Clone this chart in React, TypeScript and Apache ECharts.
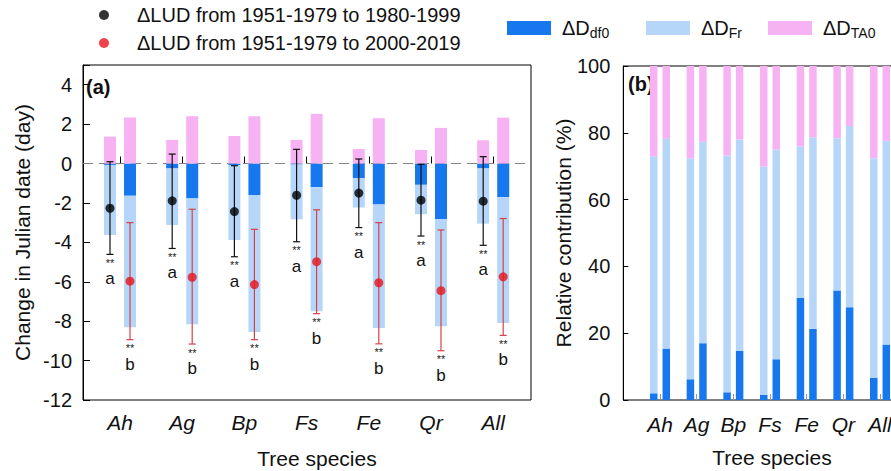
import React, { useEffect, useRef } from 'react';
import * as echarts from 'echarts';

const FONT = '"Liberation Sans", Arial, sans-serif';

// Categories
const species = ['Ah', 'Ag', 'Bp', 'Fs', 'Fe', 'Qr', 'All'];

// Legend names
const ludNames = ['ΔLUD from 1951-1979 to 1980-1999', 'ΔLUD from 1951-1979 to 2000-2019'];
const compNames = ['ΔDdf0', 'ΔDFr', 'ΔDTA0'];
const compMain = 'ΔD';
const compSubs = ['df0', 'Fr', 'TA0'];

// Panel (a): contributions (day), period 1 (1980-1999 vs 1951-1979)
const df0P1 = [-0.07, -0.25, -0.08, -0.05, -0.74, -1.08, -0.25];
const frP1 = [-3.56, -2.87, -3.8, -2.78, -1.49, -1.49, -2.8];
const ta0P1 = [1.37, 1.2, 1.4, 1.2, 0.74, 0.69, 1.18];
// period 2 (2000-2019 vs 1951-1979)
const df0P2 = [-1.64, -1.77, -1.6, -1.2, -2.08, -2.83, -1.71];
const frP2 = [-6.67, -6.39, -6.95, -6.3, -6.27, -5.43, -6.38];
const ta0P2 = [2.33, 2.4, 2.4, 2.52, 2.3, 1.81, 2.33];

// Panel (a): ΔLUD mean and error-bar ends
const ludP1 = [-2.27, -1.89, -2.44, -1.61, -1.5, -1.86, -1.91];
const ludP1High = [0.09, 0.48, -0.11, 0.72, 0.23, -0.04, 0.35];
const ludP1Low = [-4.61, -4.31, -4.73, -3.97, -3.25, -3.68, -4.15];
const ludP2 = [-5.97, -5.77, -6.14, -4.98, -6.05, -6.45, -5.75];
const ludP2High = [-3.0, -2.32, -3.34, -2.35, -3.0, -3.37, -2.79];
const ludP2Low = [-8.94, -9.16, -8.94, -7.62, -9.15, -9.5, -8.72];

// Significance annotations
const starsP1 = ['**', '**', '**', '**', '**', '**', '**'];
const lettersP1 = ['a', 'a', 'a', 'a', 'a', 'a', 'a'];
const starsP2 = ['**', '**', '**', '**', '**', '**', '**'];
const lettersP2 = ['b', 'b', 'b', 'b', 'b', 'b', 'b'];

// Panel (b): relative contribution (%)
const pctDf0P1 = [2.0, 6.2, 2.3, 1.6, 30.6, 32.8, 6.7];
const pctFrP1 = [71.0, 66.2, 70.9, 68.3, 45.3, 45.6, 65.7];
const pctTaP1 = [27.0, 27.6, 26.8, 30.1, 24.1, 21.6, 27.6];
const pctDf0P2 = [15.4, 17.0, 14.7, 12.2, 21.3, 27.8, 16.6];
const pctFrP2 = [62.8, 60.3, 63.3, 62.8, 57.3, 54.2, 61.0];
const pctTaP2 = [21.8, 22.7, 22.0, 25.0, 21.4, 18.0, 22.4];

// Y-axis settings
const yMinA = -12;
const yMaxA = 5;
const yIntervalA = 2;
const yMinB = 0;
const yMaxB = 100;
const yIntervalB = 20;

const COLORS = ['#1677EE', '#B5D6F8', '#F7B2F4'];
const RED = '#E8141B';
const RED_BAR = '#D9404A';

export default function App() {
  const ref = useRef<HTMLDivElement>(null);

  useEffect(() => {
    if (!ref.current) return;
    const chart = echarts.init(ref.current, null, { renderer: 'svg' });

    const barsA = (vals: number[][], stack: string) =>
      vals.map((v, k) => ({
        type: 'bar',
        name: compNames[k],
        stack,
        xAxisIndex: 1,
        yAxisIndex: 1,
        data: v,
        barWidth: 12,
        barGap: '67%',
        itemStyle: { color: COLORS[k] },
        z: 2,
      }));

    const barsB = (vals: number[][], stack: string) =>
      vals.map((v, k) => ({
        type: 'bar',
        name: compNames[k],
        stack,
        xAxisIndex: 3,
        yAxisIndex: 3,
        data: v,
        barWidth: 7.5,
        barGap: '67%',
        itemStyle: { color: COLORS[k] },
        z: 2,
      }));

    const errSeries = (
      low: number[],
      high: number[],
      stars: string[],
      letters: string[],
      offset: number,
      color: string
    ) => ({
      type: 'custom',
      xAxisIndex: 1,
      yAxisIndex: 1,
      z: 4,
      silent: true,
      data: species.map((_, i) => [i, low[i], high[i]]),
      renderItem: (params: any, api: any) => {
        const i = api.value(0);
        const idx = params.dataIndex;
        const lo = api.coord([i, api.value(1)]);
        const hi = api.coord([i, api.value(2)]);
        const x = lo[0] + offset;
        const cap = 3.5;
        const ls = { stroke: color, lineWidth: 1.2 };
        return {
          type: 'group',
          children: [
            { type: 'line', shape: { x1: x, y1: hi[1], x2: x, y2: lo[1] }, style: ls },
            { type: 'line', shape: { x1: x - cap, y1: hi[1], x2: x + cap, y2: hi[1] }, style: ls },
            { type: 'line', shape: { x1: x - cap, y1: lo[1], x2: x + cap, y2: lo[1] }, style: ls },
            {
              type: 'text',
              x,
              y: lo[1] + 8.5,
              style: {
                text: stars[idx],
                fontSize: 11,
                fontFamily: FONT,
                fill: '#222',
                align: 'center',
                verticalAlign: 'middle',
              },
            },
            {
              type: 'text',
              x,
              y: lo[1] + 24.5,
              style: {
                text: letters[idx],
                fontSize: 17,
                fontFamily: FONT,
                fill: '#111',
                align: 'center',
                verticalAlign: 'middle',
              },
            },
          ],
        };
      },
    });

    const compLegend = (k: number, left: number) => ({
      data: [{ name: compNames[k], icon: 'rect' }],
      left,
      top: 18,
      padding: 0,
      itemWidth: 44,
      itemHeight: 14,
      selectedMode: false,
      formatter: (name: string) => `{m|${compMain}}{s|${compSubs[compNames.indexOf(name)]}}`,
      textStyle: {
        rich: {
          m: { fontSize: 20, lineHeight: 24, color: '#111', fontFamily: FONT, padding: [0, 0, 0, 6] },
          s: { fontSize: 14, lineHeight: 24, color: '#111', fontFamily: FONT, verticalAlign: 'bottom' },
        },
      },
    });

    const hiddenY = (min: number, max: number, gridIndex: number) => ({
      type: 'value',
      gridIndex,
      min,
      max,
      show: false,
      splitLine: { show: false },
    });

    const option: any = {
      animation: false,
      textStyle: { fontFamily: FONT },
      grid: [
        { left: 83, top: 65, width: 448, height: 335, show: true, borderColor: '#000', borderWidth: 1, backgroundColor: 'transparent', outerBoundsMode: 'none', containLabel: false },
        { left: 88.9, top: 65, width: 435.4, height: 335, outerBoundsMode: 'none', containLabel: false },
        { left: 623.3, top: 66, width: 310, height: 334, show: true, borderColor: '#000', borderWidth: 1, backgroundColor: 'transparent', outerBoundsMode: 'none', containLabel: false },
        { left: 641.67, top: 66, width: 256.7, height: 334, outerBoundsMode: 'none', containLabel: false },
      ],
      xAxis: [
        { type: 'value', gridIndex: 0, min: 0, max: 1, show: false, splitLine: { show: false } },
        {
          type: 'category',
          gridIndex: 1,
          data: species,
          axisLine: { show: false },
          axisTick: { show: true, inside: true, length: 7, alignWithLabel: true, lineStyle: { color: '#000', width: 1 } },
          axisLabel: { fontSize: 21, fontStyle: 'italic', color: '#111', margin: 12, fontFamily: FONT },
          splitLine: { show: false },
        },
        { type: 'value', gridIndex: 2, min: 0, max: 1, show: false, splitLine: { show: false } },
        {
          type: 'category',
          gridIndex: 3,
          data: species,
          axisLine: { show: false },
          axisTick: { show: true, inside: true, length: 6, alignWithLabel: true, lineStyle: { color: '#999', width: 1 } },
          axisLabel: { fontSize: 21, fontStyle: 'italic', color: '#111', margin: 14, fontFamily: FONT },
          splitLine: { show: false },
        },
      ],
      yAxis: [
        {
          type: 'value',
          gridIndex: 0,
          min: yMinA,
          max: yMaxA,
          interval: yIntervalA,
          axisLine: { show: true, lineStyle: { color: '#000', width: 1 } },
          axisTick: { show: true, inside: true, length: 7, lineStyle: { color: '#000', width: 1 } },
          axisLabel: {
            fontSize: 20,
            color: '#111',
            margin: 11,
            fontFamily: FONT,
            formatter: (v: number) => (v > yMaxA - yIntervalA / 2 ? '' : String(v)),
          },
          splitLine: { show: false },
        },
        hiddenY(yMinA, yMaxA, 1),
        {
          type: 'value',
          gridIndex: 2,
          min: yMinB,
          max: yMaxB,
          interval: yIntervalB,
          axisLine: { show: true, lineStyle: { color: '#000', width: 1 } },
          axisTick: { show: true, inside: true, length: 5, lineStyle: { color: '#000', width: 1 } },
          axisLabel: { fontSize: 20, color: '#111', margin: 13, fontFamily: FONT },
          splitLine: { show: false },
        },
        hiddenY(yMinB, yMaxB, 3),
      ],
      legend: [
        {
          data: ludNames.map((n) => ({ name: n, icon: 'circle' })),
          orient: 'vertical',
          left: 99,
          top: 5,
          padding: 0,
          itemWidth: 56,
          itemHeight: 10,
          itemGap: 8,
          selectedMode: false,
          textStyle: { fontSize: 20, lineHeight: 20, color: '#111', fontFamily: FONT },
        },
        compLegend(0, 507),
        compLegend(1, 646),
        compLegend(2, 768),
      ],
      graphic: [
        { type: 'text', x: 86, y: 87, style: { text: '(a)', fontSize: 20, fontWeight: 'bold', fill: '#111', fontFamily: FONT, align: 'left', verticalAlign: 'middle' } },
        { type: 'text', x: 628, y: 84, style: { text: '(b)', fontSize: 20, fontWeight: 'bold', fill: '#111', fontFamily: FONT, align: 'left', verticalAlign: 'middle' } },
        { type: 'text', x: 22, y: 232.5, rotation: Math.PI / 2, style: { text: 'Change in Julian date (day)', fontSize: 21, fill: '#111', fontFamily: FONT, align: 'center', verticalAlign: 'middle' } },
        { type: 'text', x: 563, y: 233, rotation: Math.PI / 2, style: { text: 'Relative contribution (%)', fontSize: 21, fill: '#111', fontFamily: FONT, align: 'center', verticalAlign: 'middle' } },
        { type: 'text', x: 317, y: 458, style: { text: 'Tree species', fontSize: 21, fill: '#111', fontFamily: FONT, align: 'center', verticalAlign: 'middle' } },
        { type: 'text', x: 772, y: 457, style: { text: 'Tree species', fontSize: 21, fill: '#111', fontFamily: FONT, align: 'center', verticalAlign: 'middle' } },
      ],
      series: [
        {
          type: 'line',
          xAxisIndex: 0,
          yAxisIndex: 0,
          data: [[0, 0], [1, 0]],
          symbol: 'none',
          silent: true,
          z: 1,
          lineStyle: { color: '#808080', width: 1, type: [10, 6] },
        },
        ...barsA([df0P1, frP1, ta0P1], 'a1'),
        ...barsA([df0P2, frP2, ta0P2], 'a2'),
        ...barsB([pctDf0P1, pctFrP1, pctTaP1], 'b1'),
        ...barsB([pctDf0P2, pctFrP2, pctTaP2], 'b2'),
        errSeries(ludP1Low, ludP1High, starsP1, lettersP1, -10, '#111'),
        errSeries(ludP2Low, ludP2High, starsP2, lettersP2, 10, RED_BAR),
        {
          type: 'scatter',
          name: ludNames[0],
          xAxisIndex: 1,
          yAxisIndex: 1,
          data: ludP1,
          symbol: 'circle',
          symbolSize: 9,
          symbolOffset: [-10, 0],
          itemStyle: { color: '#000' },
          z: 5,
        },
        {
          type: 'scatter',
          name: ludNames[1],
          xAxisIndex: 1,
          yAxisIndex: 1,
          data: ludP2,
          symbol: 'circle',
          symbolSize: 9,
          symbolOffset: [10, 0],
          itemStyle: { color: RED },
          z: 5,
        },
      ],
    };

    chart.setOption(option);
    return () => chart.dispose();
  }, []);

  return (
    <div style={{ position: 'fixed', left: 0, top: 0, width: 891, height: 471, overflow: 'hidden', background: '#fff' }}>
      <div ref={ref} style={{ width: 960, height: 471 }} />
    </div>
  );
}
